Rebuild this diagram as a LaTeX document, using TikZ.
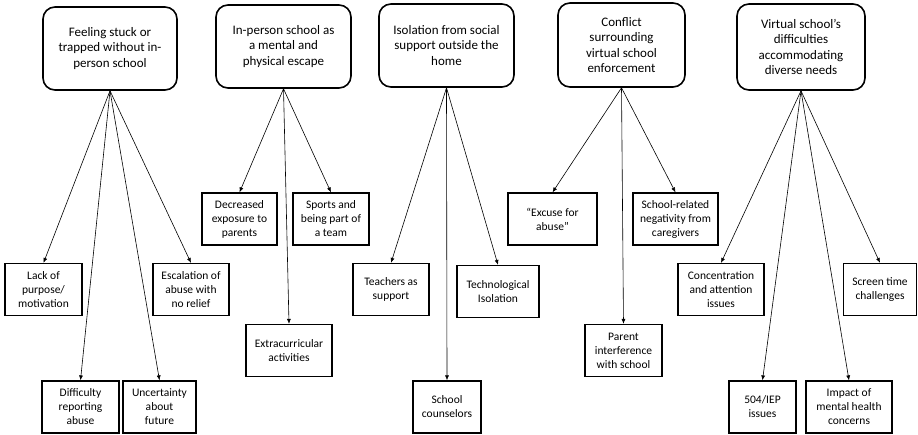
\documentclass[tikz,border=0pt]{standalone}
\usepackage{fontspec}
\setmainfont{Carlito}
\usetikzlibrary{arrows.meta}
\begin{document}
\begin{tikzpicture}[x=1pt,y=-1pt,
  theme/.style={draw, line width=1.6pt, rounded corners=12pt, align=center, inner sep=0pt,
    font=\fontsize{13}{15.3}\selectfont},
  sub/.style={draw, line width=1.2pt, align=center, inner sep=0pt,
    minimum height=52pt, font=\fontsize{11.5}{14}\selectfont},
  link/.style={line width=0.6pt, -{Latex[length=5pt,width=4pt]}}]
\useasboundingbox (0,0) rectangle (918,435);
% themes
\node[theme, minimum width=134pt, minimum height=83pt] (t1) at (110,48.5) {Feeling stuck or\\trapped without in-\\person school};
\node[theme, minimum width=135pt, minimum height=83pt] (t2) at (283.5,46.5) {In-person school as\\a mental and\\physical escape};
\node[theme, minimum width=135pt, minimum height=83pt] (t3) at (446.5,45.5) {Isolation from social\\support outside the\\home};
\node[theme, minimum width=127pt, minimum height=84pt] (t4) at (621.5,45) {Conflict\\surrounding\\virtual school\\enforcement};
\node[theme, minimum width=128pt, minimum height=86pt] (t5) at (801,47) {Virtual school’s\\difficulties\\accommodating\\diverse needs};
% subthemes
\node[sub, minimum width=77pt] (lack) at (43.5,289.5) {Lack of\\purpose/\\motivation};
\node[sub, minimum width=76pt] (esc) at (191,289.5) {Escalation of\\abuse with\\no relief};
\node[sub, minimum width=77pt] (diff) at (80.5,407) {Difficulty\\reporting\\abuse};
\node[sub, minimum width=73pt] (unc) at (159.5,407) {Uncertainty\\about\\future};
\node[sub, minimum width=75pt] (dec) at (239.5,219) {Decreased\\exposure to\\parents};
\node[sub, minimum width=76pt] (spo) at (331,219) {Sports and\\being part of\\a team};
\node[sub, minimum width=86pt] (ext) at (289,350.5) {Extracurricular\\activities};
\node[sub, minimum width=76pt] (tea) at (391,289.5) {Teachers as\\support};
\node[sub, minimum width=82pt] (tec) at (498,291.5) {Technological\\Isolation};
\node[sub, minimum width=68pt] (cou) at (447,407) {School\\counselors};
\node[sub, minimum width=89pt] (exc) at (552.5,219) {“Excuse for\\abuse”};
\node[sub, minimum width=85pt] (neg) at (675.5,219) {School-related\\negativity from\\caregivers};
\node[sub, minimum width=77pt] (par) at (623.5,350.5) {Parent\\interference\\with school};
\node[sub, minimum width=86pt] (con) at (721,289.5) {Concentration\\and attention\\issues};
\node[sub, minimum width=73pt] (scr) at (880,289.5) {Screen time\\challenges};
\node[sub, minimum width=67pt] (iep) at (762.5,407) {504/IEP\\issues};
\node[sub, minimum width=86pt] (imp) at (849,407) {Impact of\\mental health\\concerns};
% links
\foreach \c in {lack,diff,unc,esc} \draw[link] (t1.south) -- (\c.north);
\foreach \c in {dec,ext,spo} \draw[link] (t2.south) -- (\c.north);
\foreach \c in {tea,cou,tec} \draw[link] (t3.south) -- (\c.north);
\foreach \c in {exc,par,neg} \draw[link] (t4.south) -- (\c.north);
\foreach \c in {con,iep,imp,scr} \draw[link] (t5.south) -- (\c.north);
\end{tikzpicture}
\end{document}
